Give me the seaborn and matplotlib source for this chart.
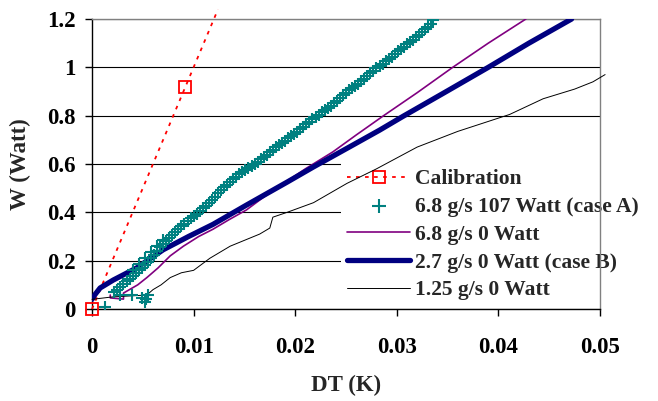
import matplotlib
matplotlib.use("Agg")
import matplotlib.pyplot as plt
import seaborn as sns

sns.set_theme(style="white")
plt.rcParams['font.family'] = ['Liberation Serif', 'DejaVu Serif']
plt.rcParams['font.weight'] = 'bold'

# calibration points (last point only carries the dotted line on)
calib_dt = [0.0, 0.0092, 0.0124]
calib_w = [0.0, 0.92, 1.24]

# 6.8 g/s 107 Watt (case A) - markers only
caseA_dt = [0.0013, 0.0028, 0.0039, 0.0049, 0.0052, 0.0055, 0.0053,
            0.0040, 0.0046, 0.0052, 0.0058, 0.0064, 0.0070,
            0.0022, 0.0025, 0.0028, 0.0031, 0.0034, 0.0037, 0.0040, 0.0043,
            0.0046, 0.0049, 0.0052, 0.0055, 0.0058, 0.0061, 0.0064, 0.0067,
            0.0070, 0.0073, 0.0076, 0.0079, 0.0082, 0.0085, 0.0088, 0.0091,
            0.0094, 0.0097, 0.0100, 0.0103, 0.0106, 0.0109, 0.0112, 0.0115,
            0.0118, 0.0121, 0.0124, 0.0127, 0.0130, 0.0133, 0.0136, 0.0139,
            0.0142, 0.0145, 0.0148, 0.0151, 0.0154, 0.0157, 0.0160, 0.0163,
            0.0166, 0.0169, 0.0172, 0.0175, 0.0178, 0.0181, 0.0184, 0.0187,
            0.0190, 0.0193, 0.0196, 0.0199, 0.0202, 0.0205, 0.0208, 0.0211,
            0.0214, 0.0217, 0.0220, 0.0223, 0.0226, 0.0229, 0.0232, 0.0235,
            0.0238, 0.0241, 0.0244, 0.0247, 0.0250, 0.0253, 0.0256, 0.0259,
            0.0262, 0.0265, 0.0268, 0.0271, 0.0274, 0.0277, 0.0280, 0.0283,
            0.0286, 0.0289, 0.0292, 0.0295, 0.0298, 0.0301, 0.0304, 0.0307,
            0.0310, 0.0313, 0.0316, 0.0319, 0.0322, 0.0325, 0.0328, 0.0331,
            0.0334, 0.0336]
caseA_w = [0.008, 0.058, 0.058, 0.046, 0.029, 0.058, 0.040,
           0.160, 0.185, 0.210, 0.235, 0.260, 0.285,
           0.070, 0.080, 0.092, 0.103, 0.115, 0.126, 0.137, 0.148,
           0.160, 0.171, 0.182, 0.195, 0.210, 0.225, 0.240, 0.255,
           0.270, 0.282, 0.293, 0.305, 0.318, 0.330, 0.342, 0.353,
           0.364, 0.376, 0.386, 0.395, 0.406, 0.417, 0.428, 0.439,
           0.450, 0.464, 0.478, 0.491, 0.503, 0.515, 0.527, 0.538,
           0.548, 0.557, 0.565, 0.574, 0.584, 0.592, 0.600, 0.609,
           0.619, 0.628, 0.638, 0.649, 0.660, 0.671, 0.680, 0.688,
           0.696, 0.706, 0.715, 0.724, 0.734, 0.743, 0.753, 0.764,
           0.775, 0.786, 0.795, 0.804, 0.814, 0.822, 0.832, 0.842,
           0.851, 0.862, 0.873, 0.884, 0.895, 0.906, 0.914, 0.922,
           0.933, 0.942, 0.952, 0.963, 0.975, 0.986, 0.996, 1.005,
           1.015, 1.026, 1.035, 1.044, 1.055, 1.066, 1.075, 1.085,
           1.095, 1.106, 1.115, 1.124, 1.135, 1.146, 1.157, 1.168,
           1.180, 1.195]

# 6.8 g/s 0 Watt
p68_dt = [0.0018, 0.0018, 0.0031, 0.0031, 0.0045, 0.0054, 0.0065, 0.0077,
          0.0090, 0.0105, 0.0119, 0.0135, 0.0152, 0.0168, 0.0185, 0.0210,
          0.0237, 0.0260, 0.0287, 0.0320, 0.0355, 0.0390, 0.0427]
p68_w = [0.058, 0.046, 0.041, 0.066, 0.100, 0.130, 0.170, 0.220,
         0.260, 0.300, 0.330, 0.370, 0.410, 0.460, 0.510, 0.580,
         0.650, 0.720, 0.800, 0.895, 1.000, 1.100, 1.200]

# 2.7 g/s 0 Watt (case B)
p27_dt = [0.0, 0.0003, 0.0008, 0.0021, 0.0044, 0.0070, 0.0095, 0.0119,
          0.0152, 0.0192, 0.0218, 0.0254, 0.0283, 0.0306, 0.0350, 0.0390,
          0.0430, 0.0472]
p27_w = [0.040, 0.060, 0.087, 0.120, 0.170, 0.245, 0.300, 0.350,
         0.430, 0.525, 0.588, 0.672, 0.740, 0.797, 0.903, 1.000,
         1.100, 1.200]

# 1.25 g/s 0 Watt
p125_dt = [0.0, 0.0020, 0.0054, 0.0060, 0.0068, 0.0077, 0.0088, 0.0100,
           0.0116, 0.0136, 0.0165, 0.0175, 0.0178, 0.0192, 0.0218, 0.0251,
           0.0280, 0.0320, 0.0360, 0.0411, 0.0444, 0.0475, 0.0493, 0.0505]
p125_w = [0.040, 0.050, 0.058, 0.080, 0.100, 0.130, 0.150, 0.160,
          0.210, 0.260, 0.310, 0.335, 0.380, 0.400, 0.440, 0.520,
          0.580, 0.670, 0.735, 0.805, 0.870, 0.910, 0.940, 0.970]

x_ticks = [0, 0.01, 0.02, 0.03, 0.04, 0.05]
x_labels = ["0", "0.01", "0.02", "0.03", "0.04", "0.05"]
y_ticks = [0, 0.2, 0.4, 0.6, 0.8, 1.0, 1.2]
y_labels = ["0", "0.2", "0.4", "0.6", "0.8", "1", "1.2"]

fig, ax = plt.subplots(figsize=(6.58, 4.01), dpi=100)
fig.subplots_adjust(left=0.1398, right=0.9119, bottom=0.2294, top=0.9526)

sns.lineplot(x=calib_dt, y=calib_w, ax=ax, color="red", lw=1.3,
             linestyle=(0, (2, 3)), marker="s", markersize=8, markevery=[0, 1],
             markerfacecolor="none", markeredgecolor="red", markeredgewidth=1.3,
             sort=False, estimator=None, clip_on=False, label="Calibration", zorder=3)
sns.scatterplot(x=caseA_dt, y=caseA_w, ax=ax, marker="+", s=85, color="#008080",
                linewidth=1.5, label="6.8 g/s 107 Watt (case A)", zorder=4)
sns.lineplot(x=p68_dt, y=p68_w, ax=ax, color="#800080", lw=1.2, sort=False,
             estimator=None, label="6.8 g/s 0 Watt", zorder=3)
sns.lineplot(x=p27_dt, y=p27_w, ax=ax, color="#000080", lw=3.8, sort=False,
             estimator=None, solid_capstyle="round", solid_joinstyle="round",
             label="2.7 g/s 0 Watt (case B)", zorder=3)
sns.lineplot(x=p125_dt, y=p125_w, ax=ax, color="black", lw=0.7, sort=False,
             estimator=None, clip_on=False, label="1.25 g/s 0 Watt", zorder=3)

ax.set_xlim(0, 0.05)
ax.set_ylim(0, 1.2)
ax.set_xticks(x_ticks)
ax.set_xticklabels(x_labels)
ax.set_yticks(y_ticks)
ax.set_yticklabels(y_labels)
ax.yaxis.grid(True, color="black", lw=0.8)
ax.xaxis.grid(False)
ax.set_axisbelow(True)

for side in ["left", "bottom"]:
    ax.spines[side].set_color("black")
    ax.spines[side].set_linewidth(1.0)
for side in ["top", "right"]:
    ax.spines[side].set_color("#808080")
    ax.spines[side].set_linewidth(1.0)

ax.tick_params(axis="both", direction="out", length=5, width=1, color="black",
               labelsize=16.5, labelcolor="black")
ax.tick_params(axis="x", pad=15)
ax.tick_params(axis="y", pad=7)
ax.tick_params(axis="x", which="both", bottom=True)
ax.tick_params(axis="y", which="both", left=True)

ax.set_xlabel("DT (K)", fontsize=16.5, fontweight="bold")
ax.set_ylabel("W (Watt)", fontsize=16.5, fontweight="bold")
ax.xaxis.set_label_coords(0.5, -0.228)
ax.yaxis.set_label_coords(-0.12, 0.5)

leg = ax.legend(loc="upper left", bbox_to_anchor=(0.49, 0.505), frameon=True,
                fontsize=15.5, handlelength=2.9, handletextpad=0.25,
                labelspacing=0.36, borderpad=0.3, borderaxespad=0, numpoints=1,
                fancybox=False, markerscale=1.1)
leg.get_frame().set_facecolor("white")
leg.get_frame().set_edgecolor("none")
leg.get_frame().set_alpha(1.0)
# below the spines, above the grid, under the data lines
leg.set_zorder(2.2)

fig.savefig("out.png", dpi=100)
